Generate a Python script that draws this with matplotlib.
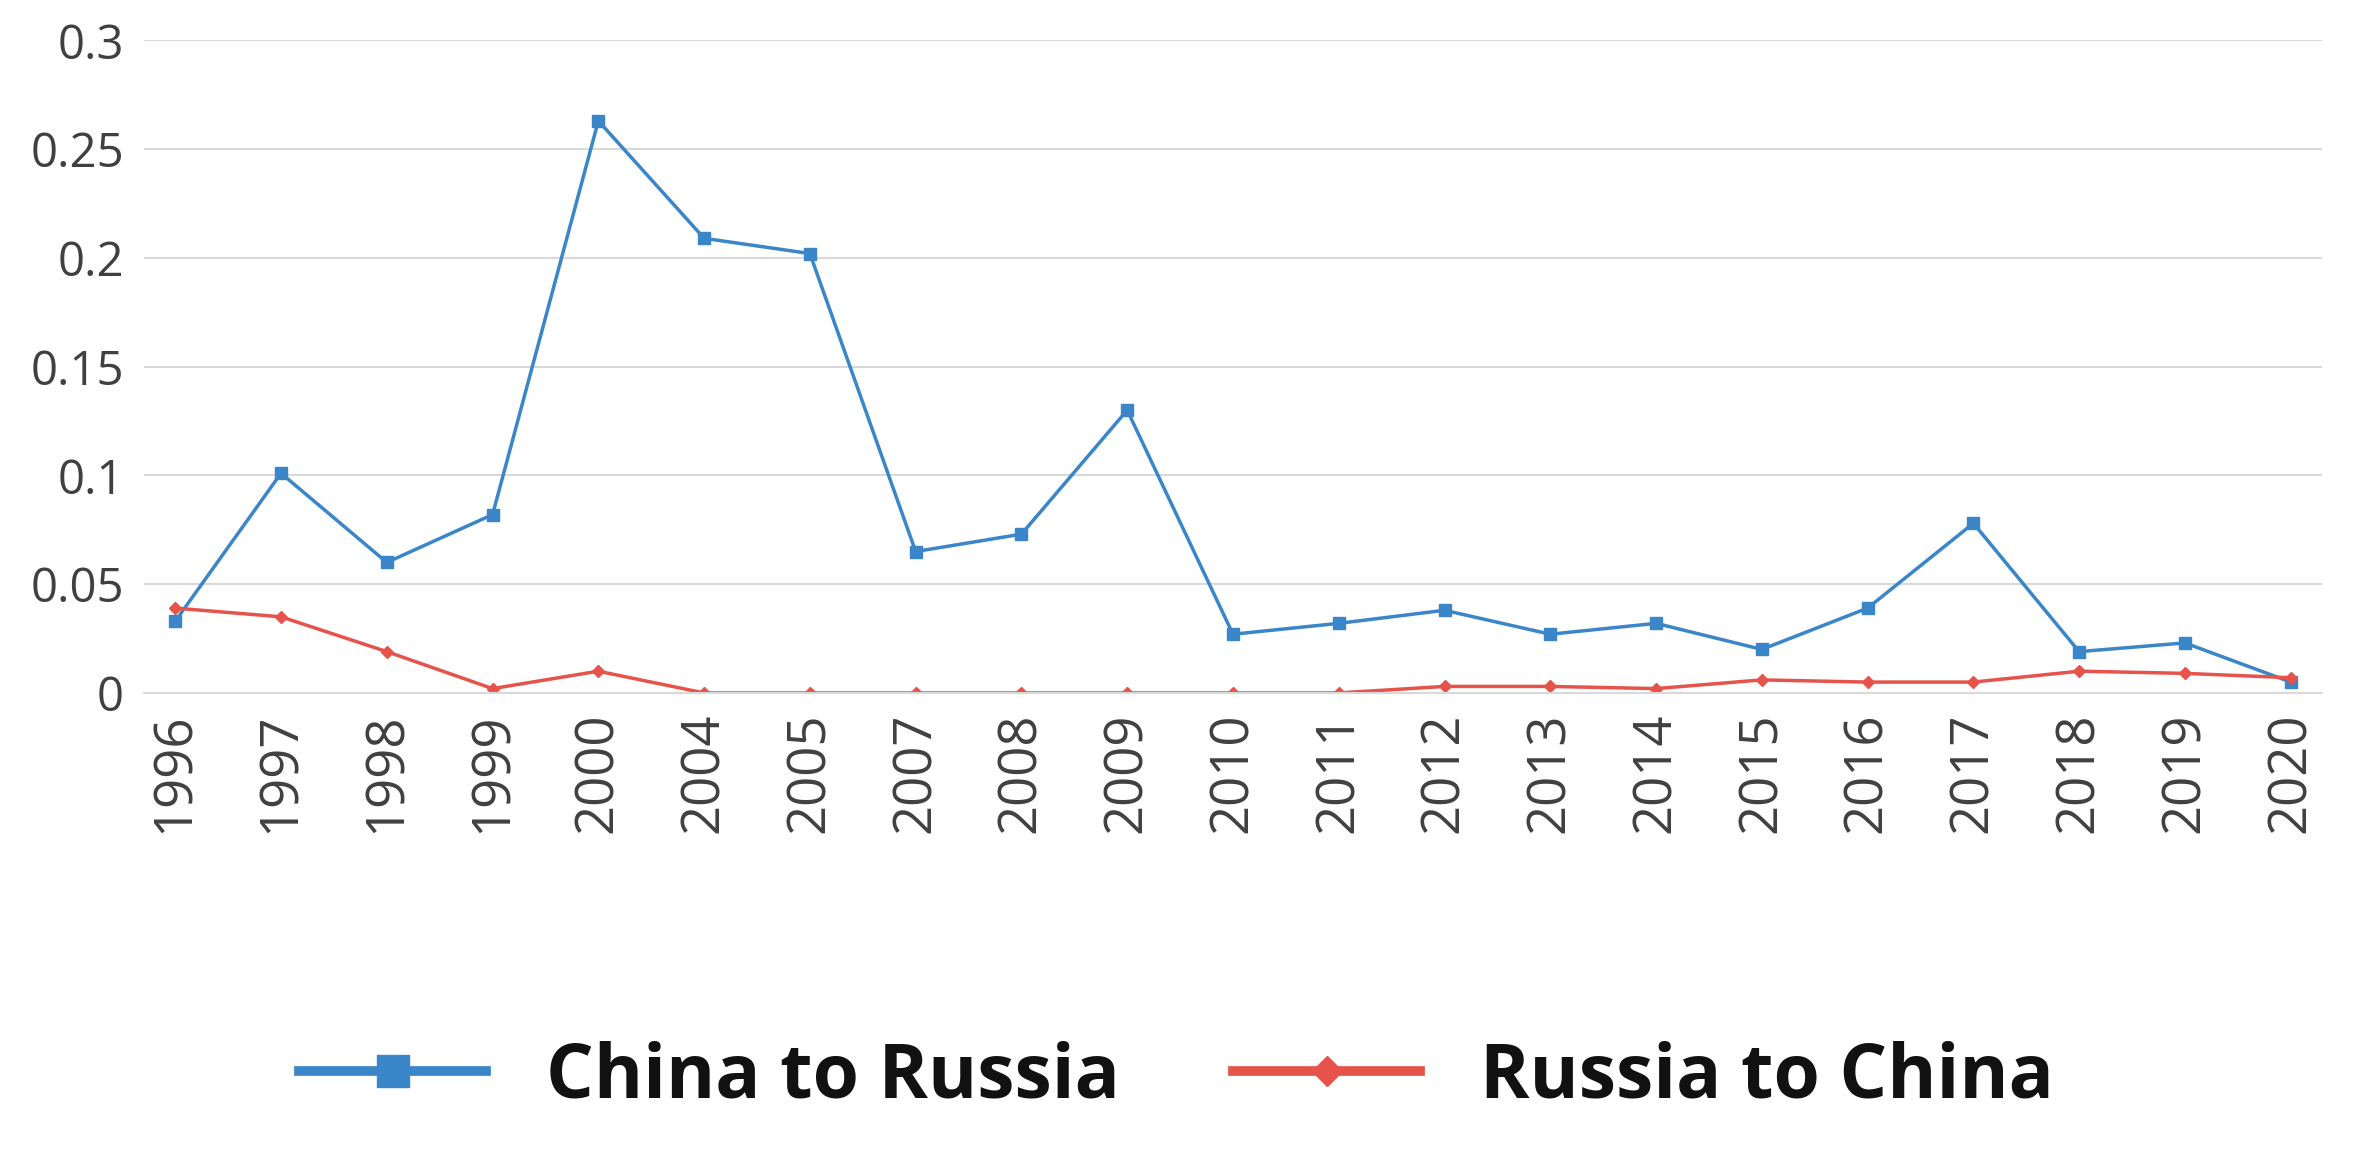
import matplotlib.pyplot as plt
from matplotlib.ticker import FuncFormatter

# --- Data
years = ["1996", "1997", "1998", "1999", "2000", "2004", "2005", "2007", "2008", "2009", "2010",
         "2011", "2012", "2013", "2014", "2015", "2016", "2017", "2018", "2019", "2020"]
china_to_russia = [0.033, 0.101, 0.060, 0.082, 0.263, 0.209, 0.202, 0.065, 0.073, 0.130, 0.027,
                   0.032, 0.038, 0.027, 0.032, 0.020, 0.039, 0.078, 0.019, 0.023, 0.005]
russia_to_china = [0.039, 0.035, 0.019, 0.002, 0.010, 0.0, 0.0, 0.0, 0.0, 0.0, 0.0,
                   0.0, 0.003, 0.003, 0.002, 0.006, 0.005, 0.005, 0.010, 0.009, 0.007]
y_ticks = [0, 0.05, 0.1, 0.15, 0.2, 0.25, 0.3]

plt.rcParams['font.family'] = ['Open Sans', 'DejaVu Sans']

fig = plt.figure(figsize=(23.53, 11.53), dpi=100)
ax = fig.add_axes([0.061, 0.399, 0.926, 0.566])

x = range(len(years))
ax.plot(x, china_to_russia, color="#3a86c8", lw=2.5, marker="s", ms=9, label="China to Russia")
ax.plot(x, russia_to_china, color="#e5534b", lw=2.5, marker="D", ms=6, label="Russia to China")

ax.set_xlim(-0.3, 20.3)
ax.set_ylim(0, 0.3)
ax.set_yticks(y_ticks)
ax.yaxis.set_major_formatter(FuncFormatter(lambda v, p: "0" if v == 0 else f"{v:g}"))
ax.set_xticks(list(x))
ax.set_xticklabels(years, rotation=90)
ax.tick_params(axis="both", length=0, colors="#404040", pad=14)
ax.tick_params(axis="x", labelsize=38)
ax.tick_params(axis="y", labelsize=34)
ax.grid(axis="y", color="#d9d9d9", lw=1.5)
ax.set_axisbelow(True)
for s in ["top", "right", "left"]:
    ax.spines[s].set_visible(False)
ax.spines["bottom"].set_color("#d9d9d9")
ax.spines["bottom"].set_linewidth(1.5)

leg = fig.legend(loc="center", bbox_to_anchor=(0.5, 0.065), ncol=2, frameon=False,
                 prop={'size': 54, 'weight': 'bold'}, handlelength=2.5, columnspacing=1.5,
                 markerscale=2.5)
for line in leg.get_lines():
    line.set_linewidth(7)
for t in leg.get_texts():
    t.set_color("#111111")

fig.savefig("out.png", dpi=100)
